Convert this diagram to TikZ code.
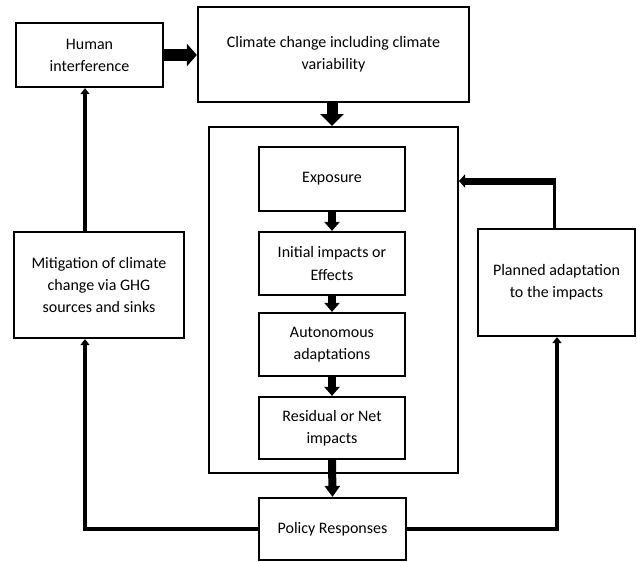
\documentclass[tikz,border=0pt]{standalone}
\usepackage{fontspec}
\setmainfont{Carlito}
\usetikzlibrary{arrows.meta}
\begin{document}
\begin{tikzpicture}[x=1pt,y=-1pt,
  box/.style={draw,line width=2.2pt,rectangle,align=center,inner sep=0pt,
    font=\fontsize{16}{22}\selectfont},
  bigarrow/.style={line width=11pt,-{Triangle[width=23pt,length=12pt]}},
  midarrow/.style={line width=8pt,-{Triangle[width=15pt,length=9pt]}},
  sidearrow/.style={line width=7pt,-{Triangle[width=13pt,length=6pt]}},
  loopline/.style={line width=4pt,-{Triangle[width=9pt,length=6pt]}},
  thinline/.style={line width=3pt}]
\useasboundingbox (0,0) rectangle (637,562);
\fill[white] (0,0) rectangle (637,562);
% boxes
\node[box,minimum width=147pt,minimum height=64pt] (hum) at (89.5,55) {Human\\interference};
\node[box,minimum width=271pt,minimum height=95pt] (cli) at (333.5,54.5) {Climate change including climate\\variability};
\node[draw,line width=2pt,rectangle,minimum width=249pt,minimum height=346pt,inner sep=0pt] (outer) at (333.5,300) {};
\node[box,minimum width=146pt,minimum height=64pt] (exp) at (332,179) {Exposure};
\node[box,minimum width=146pt,minimum height=63pt] (ini) at (332,263.5) {Initial impacts or\\Effects};
\node[box,minimum width=146pt,minimum height=63pt] (aut) at (332,344.5) {Autonomous\\adaptations};
\node[box,minimum width=146pt,minimum height=62pt] (res) at (332,428) {Residual or Net\\impacts};
\node[box,minimum width=147pt,minimum height=62pt] (pol) at (332.5,529) {Policy Responses};
\node[box,minimum width=170pt,minimum height=106pt] (mit) at (99,285) {Mitigation of climate\\change via GHG\\sources and sinks};
\node[box,minimum width=157pt,minimum height=107pt] (pla) at (556.5,282.5) {Planned adaptation\\to the impacts};
% connectors
\draw[line width=12pt,-{Triangle[width=22pt,length=10pt]}] (hum.east) -- (hum.east -| cli.west);
\draw[bigarrow] (cli.south -| exp.north) -- (exp.north |- outer.north);
\draw[midarrow] (exp.south) -- (ini.north);
\draw[midarrow] (ini.south) -- (aut.north);
\draw[midarrow] (aut.south) -- (res.north);
\draw[midarrow,-{Triangle[width=15pt,length=11pt]}] (res.south) -- (pol.north);
\coordinate (pl) at (85,529);
\coordinate (pr) at (557,529);
\coordinate (pc) at (554,181);
\draw[loopline] (pol.west) -- (pl) -- (pl |- mit.south);
\draw[loopline] (pl |- mit.north) -- (pl |- hum.south);
\draw[loopline] (pol.east) -- (pr) -- (pr |- pla.south);
\draw[thinline] (pla.north -| pc) -- (pc);
\draw[sidearrow] ([xshift=1.5pt]pc) -- (pc -| outer.east);
\end{tikzpicture}
\end{document}
